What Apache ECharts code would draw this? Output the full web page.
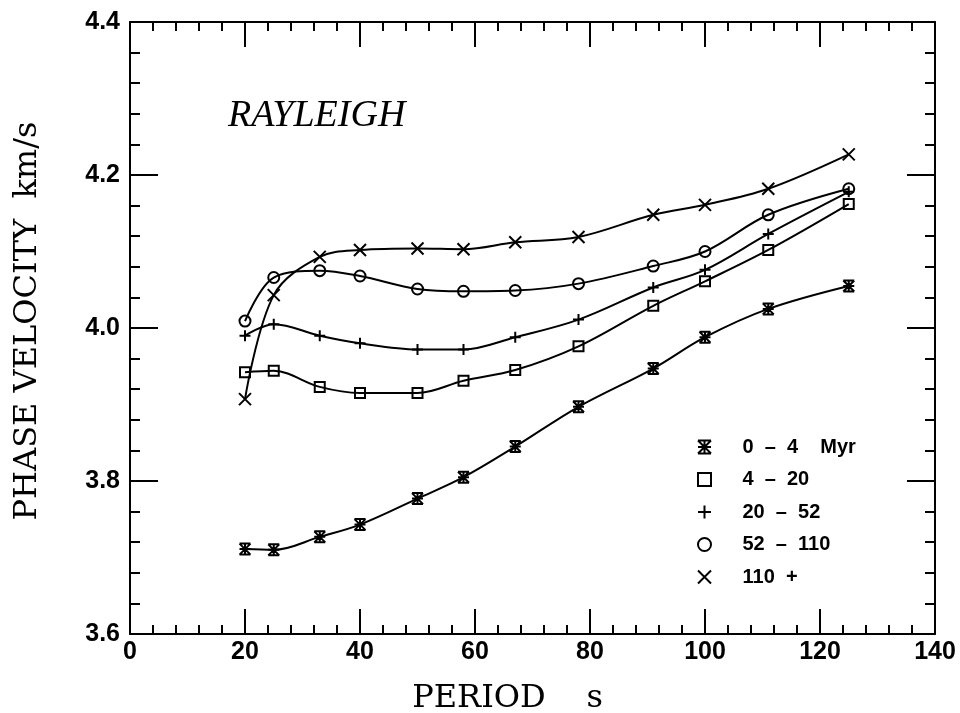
<!DOCTYPE html>
<html>
<head>
<meta charset="utf-8">
<script src="https://cdn.jsdelivr.net/npm/echarts@6/dist/echarts.min.js"></script>
<style>
  html, body { margin: 0; padding: 0; background: #fff; }
  #chart { width: 960px; height: 713px; }
</style>
</head>
<body>
<div id="chart"></div>
<script>
// periods (s)
var periods = [20, 25, 33, 40, 50, 58, 67, 78, 91, 100, 111, 125];
// phase velocity (km/s) per age group
var age0to4 = [3.711, 3.710, 3.727, 3.743, 3.777, 3.805, 3.845, 3.897, 3.947, 3.988, 4.025, 4.055];
var age4to20 = [3.942, 3.944, 3.923, 3.915, 3.915, 3.931, 3.945, 3.976, 4.029, 4.061, 4.102, 4.162];
var age20to52 = [3.990, 4.005, 3.990, 3.980, 3.972, 3.972, 3.988, 4.011, 4.053, 4.076, 4.123, 4.178];
var age52to110 = [4.009, 4.066, 4.075, 4.068, 4.051, 4.048, 4.049, 4.058, 4.081, 4.100, 4.148, 4.182];
var age110plus = [3.907, 4.043, 4.093, 4.102, 4.104, 4.103, 4.112, 4.119, 4.148, 4.161, 4.182, 4.227];

var names = ['0  –  4    Myr', '4  –  20', '20  –  52', '52  –  110', '110  +'];

// marker shapes
var starPath = 'path://M0,0L10,10M10,0L0,10M0,0L10,0M0,10L10,10M5,0L5,10M0,5L10,5';
var squarePath = 'path://M0,0L10,0L10,10L0,10Z';
var plusPath = 'path://M0,5L10,5M5,0L5,10';
var circleSym = 'circle';
var crossPath = 'path://M0,0L10,10M10,0L0,10';
var symbols = [starPath, squarePath, plusPath, circleSym, crossPath];
var symbolSizes = [11, 10, 11, 11, 12];

var allData = [age0to4, age4to20, age20to52, age52to110, age110plus];

function pairs(ys) {
  var out = [];
  for (var i = 0; i < periods.length; i++) out.push([periods[i], ys[i]]);
  return out;
}

var series = [];
for (var k = 0; k < allData.length; k++) {
  series.push({
    name: names[k],
    type: 'line',
    smooth: 0.35,
    data: pairs(allData[k]),
    symbol: symbols[k],
    symbolSize: symbolSizes[k],
    lineStyle: { color: '#000', width: 2 },
    itemStyle: { color: 'rgba(0,0,0,0)', borderColor: '#000', borderWidth: 2 },
    emphasis: { disabled: true },
    z: 3
  });
}

var labelFont = { fontFamily: 'Liberation Sans', fontWeight: 'bold', fontSize: 25, color: '#000' };

function xAxisCfg(pos, showLabel) {
  return {
    type: 'value', position: pos, min: 0, max: 140, interval: 20,
    axisLine: { show: true, onZero: false, lineStyle: { color: '#000', width: 2 } },
    axisTick: { show: true, inside: true, length: 25, lineStyle: { color: '#000', width: 2 } },
    minorTick: { show: true, splitNumber: 5, length: 9, lineStyle: { color: '#000', width: 2 } },
    splitLine: { show: false },
    axisLabel: Object.assign({ show: showLabel, margin: 6 }, labelFont)
  };
}
function yAxisCfg(pos, showLabel) {
  return {
    type: 'value', position: pos, min: 3.6, max: 4.4, interval: 0.2,
    axisLine: { show: true, onZero: false, lineStyle: { color: '#000', width: 2 } },
    axisTick: { show: true, inside: true, length: 28, lineStyle: { color: '#000', width: 2 } },
    minorTick: { show: true, splitNumber: 5, length: 10, lineStyle: { color: '#000', width: 2 } },
    splitLine: { show: false },
    axisLabel: Object.assign({ show: showLabel, margin: 10, formatter: function (v) { return v.toFixed(1); } }, labelFont)
  };
}

var xBottom = xAxisCfg('bottom', true);
xBottom.name = 'PERIOD    s';
xBottom.nameLocation = 'middle';
xBottom.nameGap = 49;
xBottom.nameTextStyle = { fontFamily: 'DejaVu Serif', fontSize: 32, color: '#000', padding: [0, 50, 0, 0] };

var yLeft = yAxisCfg('left', true);
yLeft.name = 'PHASE VELOCITY  km/s';
yLeft.nameLocation = 'middle';
yLeft.nameGap = 86;
yLeft.nameTextStyle = { fontFamily: 'DejaVu Serif', fontSize: 32, color: '#000', padding: [0, 0, 0, 14] };

var chart = echarts.init(document.getElementById('chart'));
chart.setOption({
  backgroundColor: '#fff',
  animation: false,
  grid: { left: 130, right: 25, top: 22, bottom: 79, containLabel: false, outerBoundsMode: 'none' },
  xAxis: [xBottom, xAxisCfg('top', false)],
  yAxis: [yLeft, yAxisCfg('right', false)],
  legend: {
    orient: 'vertical',
    left: 692,
    top: 432,
    itemWidth: 40,
    itemHeight: 13,
    itemGap: 12.5,
    symbolKeepAspect: true,
    selectedMode: false,
    itemStyle: { color: 'rgba(0,0,0,0)', borderColor: '#000', borderWidth: 2 },
    textStyle: { fontFamily: 'Liberation Sans', fontWeight: 'bold', fontSize: 20, color: '#000', padding: [0, 0, 0, 13] },
    data: names.map(function (n, i) { return { name: n, icon: symbols[i] }; })
  },
  graphic: [{
    type: 'text',
    left: 228,
    top: 97,
    style: { text: 'RAYLEIGH', fontFamily: 'Liberation Serif', fontStyle: 'italic', fontSize: 38, fill: '#000' }
  }],
  series: series
});
</script>
</body>
</html>
